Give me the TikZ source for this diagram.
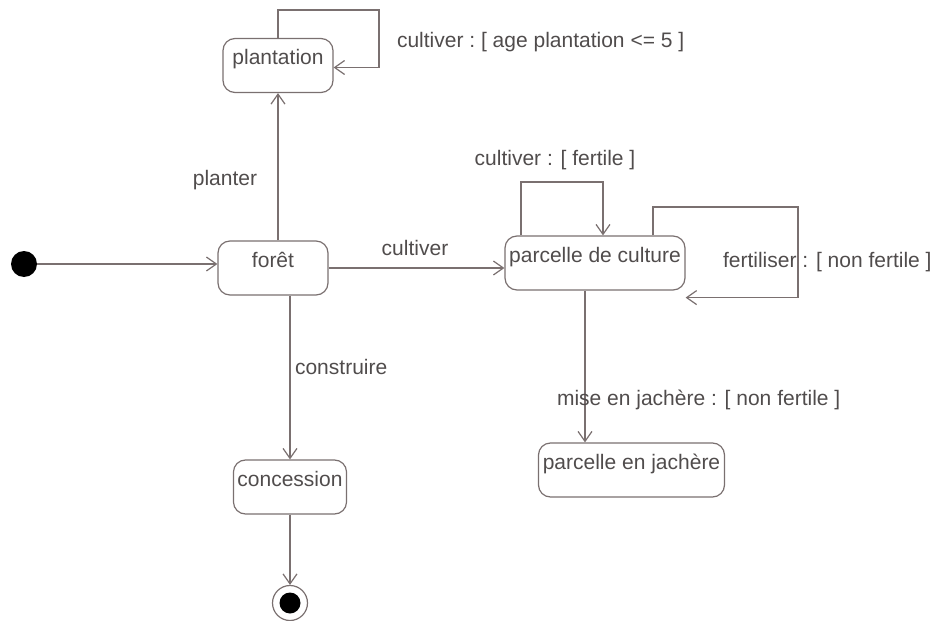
\documentclass[tikz,border=0pt]{standalone}
\usepackage{fontspec}
\setmainfont{Liberation Sans}
\usepackage{xcolor}
\usepackage{tikz}
\usetikzlibrary{positioning,calc,arrows.meta}

\definecolor{trait}{RGB}{122,112,112}
\definecolor{texte}{RGB}{80,76,76}

\begin{document}
\begin{tikzpicture}[x=0.5pt, y=-0.5pt,
    every node/.style={text=texte, font=\fontsize{10.5}{12}\selectfont},
    etat/.style={draw=trait, line width=0.6pt, rounded corners=6pt, inner xsep=2pt, inner ysep=0pt, text height=13pt, text depth=14pt},
    trans/.style={draw=trait, line width=0.6pt, -{Straight Barb[length=5pt, width=7pt]}}]
    \useasboundingbox (0, 0) rectangle (938, 621);

    % States
    \node [etat, minimum width=55pt] (plantation) at (278, 65.5) {plantation};
    \node [etat, minimum width=55pt] (foret) at (273, 268) {forêt};
    \node [etat, minimum width=90pt] (culture) at (595, 263) {parcelle de culture};
    \node [etat, minimum width=53pt] (concession) at (290, 487) {concession};
    \node [etat, minimum width=93pt] (jachere) at (631.5, 470) {parcelle en jachère};

    % Initial and final
    \node [circle, fill=black, inner sep=0pt, minimum size=13pt] (debut) at (24, 264) {};
    \node [circle, draw=trait, line width=0.6pt, inner sep=0pt, minimum size=17.5pt] (fin) at (290, 603) {};
    \node [circle, fill=black, inner sep=0pt, minimum size=10.5pt] (finpt) at (fin) {};

    % Transitions
    \draw [trans] (debut) -- (debut -| foret.west);
    \draw [trans] (foret.north -| plantation.south) -- (plantation.south);
    \draw [trans] (foret) -- (foret -| culture.west);
    \draw [trans] (foret.south -| concession.north) -- (concession.north);
    \draw [trans] (concession.south) -- (fin.north);
    \draw [trans] ([xshift=-5pt]culture.south) -- ([xshift=-5pt]culture.south |- jachere.north);

    % Self loops
    \draw [trans] (plantation.north) |- (379, 10) |- ([yshift=-1pt]plantation.east);
    \draw [trans] ([xshift=-37pt]culture.north) |- (603, 182) -- ([xshift=4pt]culture.north);
    \draw [trans] ([xshift=29pt]culture.north) |- (798, 207) |- ([yshift=-3.5pt]culture.south east);

    % Labels
    \node [anchor=west] (lbcultplant) at (390, 42) {cultiver :\ [ age plantation <= 5 ]};
    \node (lbplanter) at (225, 180) {planter};
    \node (lbcultiver) at (415, 248) {cultiver};
    \node (lbfertile) at (555, 160) {cultiver : [ fertile ]};
    \node [anchor=west] (lbfertiliser) at (716, 262) {fertiliser : [ non fertile ]};
    \node [anchor=west] (lbjachere) at (550, 400) {mise en jachère : [ non fertile ]};
    \node [anchor=west] (lbconstruire) at (288, 367) {construire};
\end{tikzpicture}
\end{document}
